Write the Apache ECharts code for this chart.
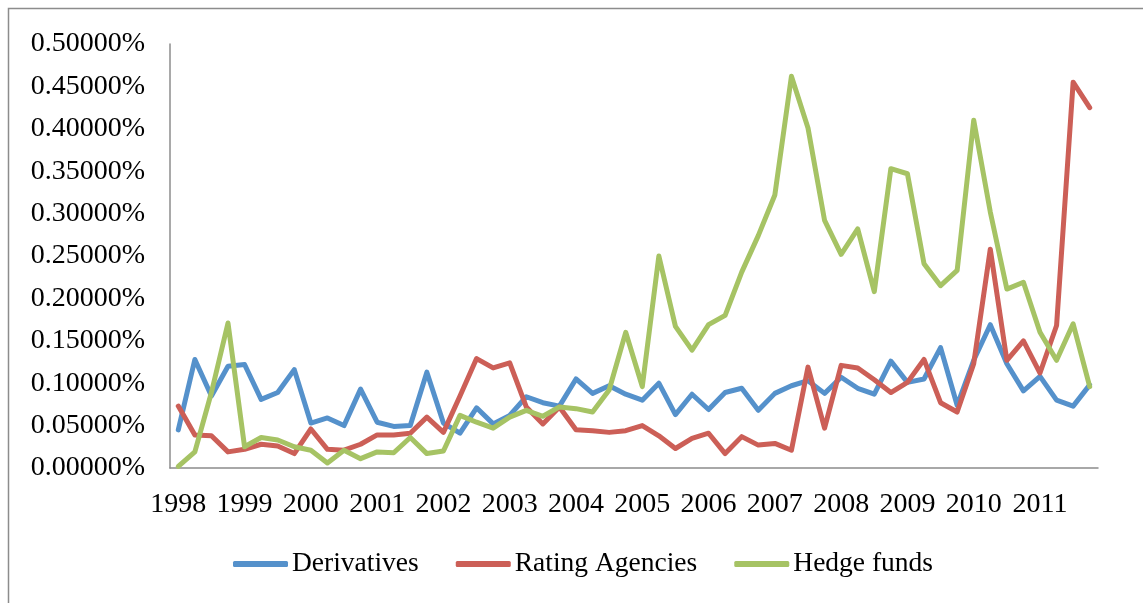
<!DOCTYPE html>
<html>
<head>
<meta charset="utf-8">
<script src="https://cdn.jsdelivr.net/npm/echarts@6/dist/echarts.min.js"></script>
<style>
  html, body { margin: 0; padding: 0; background: #fff; }
  #chart { width: 1143px; height: 603px; }
</style>
</head>
<body>
<div id="chart"></div>
<script>
// Quarterly series, 1998 Q1 – 2011 Q4, values in percent
const years = ['1998','1999','2000','2001','2002','2003','2004','2005','2006','2007','2008','2009','2010','2011'];
const quarters = ['Q1','Q2','Q3','Q4'];

const derivatives = [
  0.045, 0.128, 0.085, 0.120, 0.122, 0.081, 0.089, 0.116,
  0.053, 0.059, 0.050, 0.093, 0.054, 0.049, 0.050, 0.113,
  0.053, 0.041, 0.071, 0.052, 0.062, 0.084, 0.077, 0.073,
  0.105, 0.088, 0.097, 0.087, 0.080, 0.100, 0.063, 0.087,
  0.069, 0.089, 0.094, 0.068, 0.088, 0.097, 0.103, 0.088,
  0.107, 0.094, 0.087, 0.126, 0.101, 0.105, 0.142, 0.074,
  0.127, 0.169, 0.123, 0.091, 0.108, 0.080, 0.073, 0.098
];

const ratingAgencies = [
  0.073, 0.039, 0.038, 0.019, 0.022, 0.028, 0.026, 0.017,
  0.046, 0.022, 0.021, 0.028, 0.039, 0.039, 0.041, 0.060,
  0.042, 0.085, 0.129, 0.118, 0.124, 0.072, 0.052, 0.072,
  0.045, 0.044, 0.042, 0.044, 0.050, 0.038, 0.023, 0.035,
  0.041, 0.017, 0.037, 0.027, 0.029, 0.021, 0.119, 0.047,
  0.121, 0.118, 0.104, 0.089, 0.101, 0.128, 0.077, 0.066,
  0.123, 0.258, 0.127, 0.150, 0.112, 0.168, 0.455, 0.425
];

const hedgeFunds = [
  0.002, 0.019, 0.089, 0.171, 0.025, 0.036, 0.033, 0.025,
  0.021, 0.006, 0.021, 0.011, 0.019, 0.018, 0.036, 0.017,
  0.020, 0.062, 0.054, 0.047, 0.060, 0.068, 0.061, 0.072,
  0.070, 0.066, 0.092, 0.160, 0.096, 0.250, 0.167, 0.139,
  0.169, 0.180, 0.231, 0.274, 0.322, 0.462, 0.401, 0.292,
  0.252, 0.282, 0.208, 0.353, 0.347, 0.241, 0.215, 0.233,
  0.410, 0.302, 0.211, 0.219, 0.160, 0.127, 0.170, 0.096
];

const categories = [];
years.forEach(y => quarters.forEach(q => categories.push(y + ' ' + q)));

const FONT = '"Liberation Serif", "DejaVu Serif", serif';
const colors = ['#5591CB', '#CC5F57', '#A6C364'];

const chart = echarts.init(document.getElementById('chart'), null, { renderer: 'canvas' });

function lineSeries(name, data, color) {
  return {
    name: name,
    type: 'line',
    data: data,
    symbol: 'none',
    smooth: false,
    lineStyle: { width: 5, color: color, cap: 'round', join: 'round' },
    itemStyle: { color: color }
  };
}

chart.setOption({
  animation: false,
  backgroundColor: '#ffffff',
  graphic: [{
    type: 'rect',
    shape: { x: 8.5, y: 8.5, width: 1150, height: 620 },
    style: { fill: 'none', stroke: '#8c8c8c', lineWidth: 1.5 },
    silent: true,
    z: -1
  }],
  grid: { left: 170, right: 45, top: 44, bottom: 135, containLabel: false },
  legend: {
    left: 233,
    top: 550,
    padding: 0,
    itemWidth: 55,
    itemHeight: 6,
    itemGap: 37,
    icon: 'roundRect',
    textStyle: { fontFamily: FONT, fontSize: 27.5, color: '#000', padding: [0, 0, 0, -1] },
    data: ['Derivatives', 'Rating Agencies', 'Hedge funds']
  },
  xAxis: {
    type: 'category',
    data: categories,
    boundaryGap: true,
    axisLine: { show: true, lineStyle: { color: '#8c8c8c', width: 1.5 } },
    axisTick: { show: false },
    splitLine: { show: false },
    axisLabel: {
      interval: 3,
      margin: 23,
      fontFamily: FONT,
      fontSize: 28,
      color: '#000',
      formatter: v => v.slice(0, 4)
    }
  },
  yAxis: {
    type: 'value',
    min: 0,
    max: 0.5,
    interval: 0.05,
    axisLine: { show: true, lineStyle: { color: '#8c8c8c', width: 1.5 } },
    axisTick: { show: false },
    splitLine: { show: false },
    axisLabel: {
      margin: 25,
      fontFamily: FONT,
      fontSize: 28,
      color: '#000',
      formatter: v => v.toFixed(5) + '%'
    }
  },
  series: [
    lineSeries('Derivatives', derivatives, colors[0]),
    lineSeries('Rating Agencies', ratingAgencies, colors[1]),
    lineSeries('Hedge funds', hedgeFunds, colors[2])
  ]
});
</script>
</body>
</html>
